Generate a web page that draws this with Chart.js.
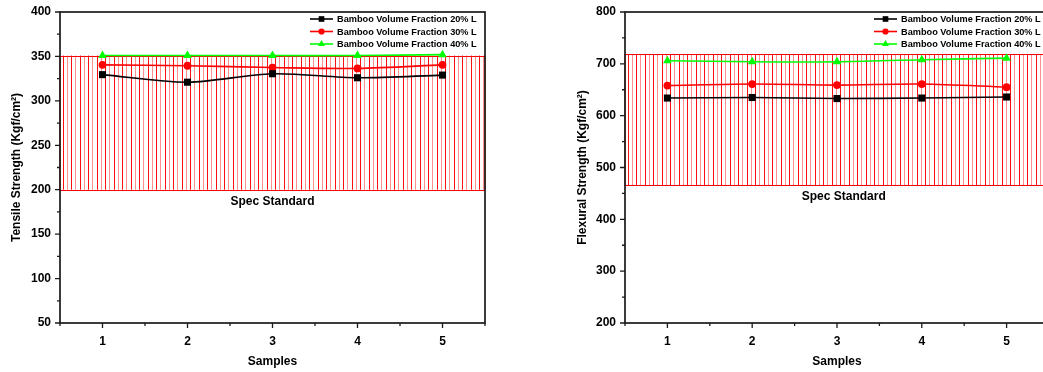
<!DOCTYPE html>
<html>
<head>
<meta charset="utf-8">
<script src="https://cdn.jsdelivr.net/npm/chart.js@4.4.0/dist/chart.umd.min.js"></script>
<style>
  html, body { margin: 0; padding: 0; background: #fff; overflow: hidden; width: 1043px; height: 372px; }
  .panel { position: absolute; top: 0; height: 372px; }
  #izq { left: 0; width: 520px; }
  #der { left: 565px; width: 500px; }
</style>
</head>
<body>
<div class="panel" id="izq"><canvas id="graficaTension" width="520" height="372"></canvas></div>
<div class="panel" id="der"><canvas id="graficaFlexion" width="500" height="372"></canvas></div>
<script>
const muestras = [1, 2, 3, 4, 5];
const nombresSeries = ['Bamboo Volume Fraction 20% L', 'Bamboo Volume Fraction 30% L', 'Bamboo Volume Fraction 40% L'];

const tension20 = [329.5, 321, 330.5, 326, 329];
const tension30 = [340.5, 339.5, 337.5, 336.5, 340.5];
const tension40 = [351, 351, 351, 351, 352];
const ticksTension = [50, 100, 150, 200, 250, 300, 350, 400];
const especTension = [200, 351];

const flexion20 = [634, 635, 633, 634, 636];
const flexion30 = [658, 661, 659, 661, 655];
const flexion40 = [706, 704, 704, 708, 711];
const ticksFlexion = [200, 300, 400, 500, 600, 700, 800];
const especFlexion = [466, 719];

const fuente = "'Liberation Sans', Arial, sans-serif";
Chart.defaults.font.family = fuente;
Chart.defaults.font.weight = 'bold';
Chart.defaults.color = '#000';

const estilos = [
  { color: '#000000', punto: 'rect', radio: 5 },
  { color: '#ff0000', punto: 'circle', radio: 3.9 },
  { color: '#00ff00', punto: 'triangle', radio: 5 },
];

// banda rayada de la especificacion, marco, marcas de ejes y leyenda
const pluginEspec = {
  id: 'espec',
  beforeDatasetsDraw(chart, args, opts) {
    const { ctx, chartArea: { left, right } } = chart;
    const y = chart.scales.y;
    const yAlto = y.getPixelForValue(opts.alto);
    const yBajo = y.getPixelForValue(opts.bajo);
    ctx.save();
    ctx.lineWidth = 1;
    let i = 0;
    for (let px = left + 2.5; px < right; px += 4.25) {
      ctx.strokeStyle = i % 2 ? '#ff9090' : '#ff0f0f';
      ctx.beginPath();
      ctx.moveTo(Math.round(px) + 0.5, yAlto);
      ctx.lineTo(Math.round(px) + 0.5, yBajo);
      ctx.stroke();
      i++;
    }
    ctx.strokeStyle = '#ff0000';
    ctx.strokeRect(left, Math.round(yAlto) + 0.5, right - left, Math.round(yBajo - yAlto));
    ctx.restore();
  },
  afterDraw(chart, args, opts) {
    const { ctx, chartArea: { left, right, top, bottom } } = chart;
    const x = chart.scales.x, y = chart.scales.y;
    ctx.save();

    ctx.strokeStyle = '#1a1a1a';
    ctx.lineWidth = 1.7;
    ctx.strokeRect(left, top, right - left, bottom - top);

    ctx.lineWidth = 1.3;
    ctx.beginPath();
    for (let v = x.min; v <= x.max + 1e-9; v += 0.5) {
      const px = x.getPixelForValue(v);
      const largo = Number.isInteger(v) ? 5 : 3;
      ctx.moveTo(px, bottom);
      ctx.lineTo(px, bottom + largo);
    }
    const marcas = opts.marcas;
    marcas.forEach((v, k) => {
      const py = y.getPixelForValue(v);
      ctx.moveTo(left, py);
      ctx.lineTo(left - 5, py);
      if (k < marcas.length - 1) {
        const pm = y.getPixelForValue((v + marcas[k + 1]) / 2);
        ctx.moveTo(left, pm);
        ctx.lineTo(left - 3, pm);
      }
    });
    ctx.stroke();

    // texto de la banda
    ctx.fillStyle = '#000';
    ctx.font = 'bold 12px ' + fuente;
    ctx.textAlign = 'center';
    ctx.textBaseline = 'middle';
    ctx.fillText('Spec Standard', x.getPixelForValue(opts.etiquetaX), y.getPixelForValue(opts.bajo) + 12);

    // leyenda
    ctx.font = 'bold 9.2px ' + fuente;
    ctx.textAlign = 'left';
    chart.data.datasets.forEach((ds, k) => {
      const py = top + 7 + k * 12.5;
      ctx.strokeStyle = ds.borderColor;
      ctx.lineWidth = 1.6;
      ctx.beginPath();
      ctx.moveTo(right - 175, py);
      ctx.lineTo(right - 152, py);
      ctx.stroke();
      ctx.fillStyle = ds.borderColor;
      Chart.helpers.drawPoint(ctx, { pointStyle: ds.pointStyle, radius: ds.pointRadius * 0.8, rotation: 0, borderWidth: 0 }, right - 163.5, py);
      ctx.fillStyle = '#000';
      ctx.fillText(ds.label, right - 148, py + 0.5);
    });
    ctx.restore();
  },
};

function crearGrafica(id, valores, ticksY, espec, tituloY, etiquetaX, margenDer, margenTitulo) {
  return new Chart(document.getElementById(id), {
    type: 'line',
    data: {
      datasets: valores.map((serie, k) => ({
        label: nombresSeries[k],
        data: muestras.map((m, j) => ({ x: m, y: serie[j] })),
        borderColor: estilos[k].color,
        backgroundColor: estilos[k].color,
        borderWidth: 1.6,
        pointStyle: estilos[k].punto,
        pointRadius: estilos[k].radio,
        pointBorderWidth: 0,
        tension: 0.3,
      })),
    },
    options: {
      responsive: false,
      animation: false,
      layout: { padding: { top: 12, right: margenDer, bottom: 0, left: 0 } },
      plugins: {
        legend: { display: false },
        tooltip: { enabled: false },
        espec: { bajo: espec[0], alto: espec[1], marcas: ticksY, etiquetaX: etiquetaX },
      },
      scales: {
        x: {
          type: 'linear',
          min: 0.5,
          max: 5.5,
          afterBuildTicks: s => { s.ticks = muestras.map(v => ({ value: v })); },
          afterFit: s => { s.height = 49; s.paddingLeft = 0; s.paddingRight = 0; },
          grid: { display: false, drawTicks: false },
          border: { display: false },
          ticks: { font: { size: 12, weight: 'bold' }, color: '#000', padding: 11, maxRotation: 0 },
          title: { display: true, text: 'Samples', font: { size: 12, weight: 'bold' }, color: '#000', padding: { top: 0, bottom: 3 } },
        },
        y: {
          min: ticksY[0],
          max: ticksY[ticksY.length - 1],
          afterBuildTicks: s => { s.ticks = ticksY.map(v => ({ value: v })); },
          afterFit: s => { s.width = 60; s.paddingTop = 0; s.paddingBottom = 0; },
          grid: { display: false, drawTicks: false },
          border: { display: false },
          ticks: { font: { size: 12, weight: 'bold' }, color: '#000', padding: 9 },
          title: { display: true, text: tituloY, font: { size: 12, weight: 'bold' }, color: '#000', padding: { top: margenTitulo, bottom: 0 } },
        },
      },
    },
    plugins: [pluginEspec],
  });
}

crearGrafica('graficaTension', [tension20, tension30, tension40], ticksTension, especTension,
  'Tensile Strength (Kgf/cm\u00b2)', 3, 35, 9);
crearGrafica('graficaFlexion', [flexion20, flexion30, flexion40], ticksFlexion, especFlexion,
  'Flexural Strength (Kgf/cm\u00b2)', 3.08, 16, 10);
</script>
</body>
</html>
